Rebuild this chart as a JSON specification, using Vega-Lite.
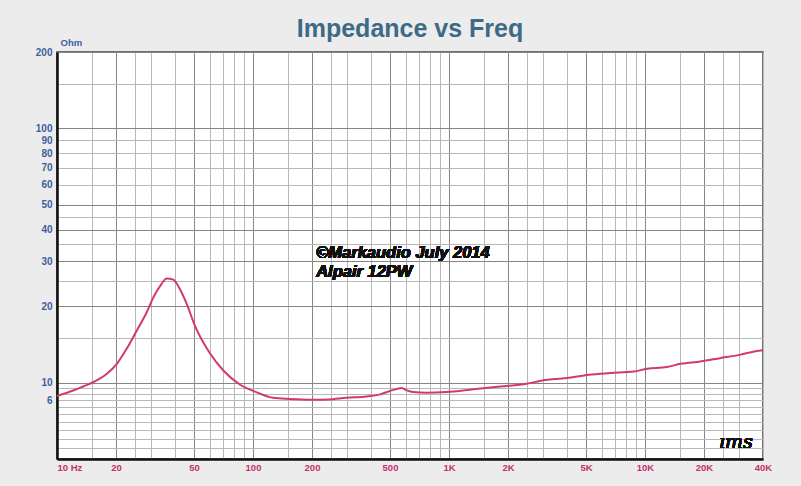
{
  "$schema": "https://vega.github.io/schema/vega-lite/v6.json",
  "width": 706,
  "height": 407,
  "autosize": {"type": "none"},
  "padding": {"left": 57, "top": 52, "right": 38, "bottom": 27},
  "background": "#ececec",
  "view": {"fill": "white", "stroke": "#444", "strokeWidth": 1.5},
  "title": {
    "text": "Impedance vs Freq",
    "fontSize": 25,
    "font": "Liberation Sans",
    "fontWeight": "bold",
    "color": "#3d6a86",
    "offset": -5
  },
  "data": {
    "values": [
      {"freq": 10, "ohm": 8.85},
      {"freq": 12.1, "ohm": 9.3},
      {"freq": 13.6, "ohm": 9.65},
      {"freq": 15.6, "ohm": 10.1},
      {"freq": 17.9, "ohm": 10.8},
      {"freq": 20.2, "ohm": 11.85},
      {"freq": 22.7, "ohm": 13.6},
      {"freq": 25.5, "ohm": 16.0},
      {"freq": 28.7, "ohm": 18.9},
      {"freq": 31.0, "ohm": 21.6},
      {"freq": 34.1, "ohm": 24.4},
      {"freq": 36.3, "ohm": 25.7},
      {"freq": 39.2, "ohm": 25.4},
      {"freq": 42.4, "ohm": 23.3},
      {"freq": 45.9, "ohm": 20.4},
      {"freq": 50.6, "ohm": 16.7},
      {"freq": 60.4, "ohm": 13.0},
      {"freq": 70.6, "ohm": 11.15},
      {"freq": 86, "ohm": 9.8},
      {"freq": 104.6, "ohm": 9.15},
      {"freq": 126.6, "ohm": 8.71},
      {"freq": 154, "ohm": 8.62},
      {"freq": 199, "ohm": 8.56},
      {"freq": 242, "ohm": 8.58},
      {"freq": 300, "ohm": 8.71},
      {"freq": 380, "ohm": 8.81},
      {"freq": 445, "ohm": 8.98},
      {"freq": 510, "ohm": 9.31},
      {"freq": 573, "ohm": 9.52},
      {"freq": 610, "ohm": 9.31},
      {"freq": 656, "ohm": 9.17},
      {"freq": 766, "ohm": 9.11},
      {"freq": 970, "ohm": 9.17},
      {"freq": 1330, "ohm": 9.4},
      {"freq": 1830, "ohm": 9.65},
      {"freq": 2490, "ohm": 9.89},
      {"freq": 2990, "ohm": 10.19},
      {"freq": 3990, "ohm": 10.41},
      {"freq": 5170, "ohm": 10.73},
      {"freq": 6680, "ohm": 10.9},
      {"freq": 8750, "ohm": 11.05},
      {"freq": 10250, "ohm": 11.32},
      {"freq": 12930, "ohm": 11.5},
      {"freq": 15180, "ohm": 11.85},
      {"freq": 19150, "ohm": 12.1},
      {"freq": 24130, "ohm": 12.47},
      {"freq": 30400, "ohm": 12.85},
      {"freq": 38200, "ohm": 13.35},
      {"freq": 40000, "ohm": 13.4}
    ]
  },
  "layer": [
    {
      "mark": {"type": "line", "color": "#d23a6c", "strokeWidth": 2, "interpolate": "monotone"},
      "encoding": {
        "x": {
          "field": "freq",
          "type": "quantitative",
          "scale": {"type": "log", "domain": [10, 40000], "nice": false},
          "axis": {
            "title": null,
            "values": [10, 15, 20, 25, 30, 40, 50, 60, 70, 80, 90, 100, 150, 200, 250, 300, 400, 500, 600, 700, 800, 900, 1000, 1500, 2000, 2500, 3000, 4000, 5000, 6000, 7000, 8000, 9000, 10000, 15000, 20000, 25000, 30000, 40000],
            "labelExpr": "datum.value == 10 ? '10 Hz' : indexof([20,50,100,200,500], datum.value) >= 0 ? datum.value + '' : indexof([1000,2000,5000,10000,20000,40000], datum.value) >= 0 ? (datum.value / 1000) + 'K' : ''",
            "labelAlign": {"condition": {"test": "datum.value == 10", "value": "left"}, "value": "center"},
            "labelOverlap": false,
            "labelFlush": false,
            "labelBound": false,
            "labelColor": "#c2306a",
            "labelFont": "Liberation Sans",
            "labelFontWeight": "bold",
            "labelFontSize": 9.5,
            "labelPadding": 3,
            "ticks": false,
            "domainColor": "#111",
            "domainWidth": 2.5,
            "gridColor": {"condition": {"test": "indexof([10,20,50,100,200,500,1000,2000,5000,10000,20000], datum.value) >= 0", "value": "#858585"}, "value": "#b8b8b8"},
            "gridWidth": 1
          }
        },
        "y": {
          "field": "ohm",
          "type": "quantitative",
          "scale": {"type": "log", "domain": [5, 200], "nice": false},
          "axis": {
            "title": "Ohm",
            "titleAngle": 0,
            "titleX": 3,
            "titleY": -5,
            "titleAlign": "left",
            "titleBaseline": "bottom",
            "titleColor": "#3d5f9e",
            "titleFont": "Liberation Sans",
            "titleFontWeight": "bold",
            "titleFontSize": 9.5,
            "values": [5.5, 6, 6.5, 7, 7.5, 8, 8.5, 9, 9.5, 10, 15, 20, 25, 30, 35, 40, 45, 50, 60, 70, 80, 90, 100, 150, 200],
            "labelExpr": "datum.value == 8.5 ? '6' : indexof([10,20,30,40,50,60,70,80,90,100,200], datum.value) >= 0 ? datum.value + '' : ''",
            "labelOverlap": false,
            "labelFlush": false,
            "labelBound": false,
            "labelColor": "#3d5f9e",
            "labelFont": "Liberation Sans",
            "labelFontWeight": "bold",
            "labelFontSize": 10,
            "labelPadding": 5,
            "ticks": false,
            "domainColor": "#111",
            "domainWidth": 2.5,
            "gridColor": {"condition": {"test": "indexof([10,20,30,40,50,100,200], datum.value) >= 0", "value": "#858585"}, "value": "#b8b8b8"},
            "gridWidth": 1
          }
        }
      }
    },
    {
      "mark": {"type": "text", "align": "left", "baseline": "alphabetic", "font": "Liberation Sans", "fontWeight": "bold", "fontStyle": "italic", "fontSize": 16.5, "color": "#111"},
      "encoding": {
        "x": {"datum": 210, "type": "quantitative"},
        "y": {"datum": 30.9, "type": "quantitative"},
        "text": {"value": "©Markaudio July 2014"}
      }
    },
    {
      "mark": {"type": "text", "align": "left", "baseline": "alphabetic", "font": "Liberation Sans", "fontWeight": "bold", "fontStyle": "italic", "fontSize": 16.5, "color": "#111"},
      "encoding": {
        "x": {"datum": 210, "type": "quantitative"},
        "y": {"datum": 26.0, "type": "quantitative"},
        "text": {"value": "Alpair 12PW"}
      }
    },
    {
      "mark": {"type": "text", "align": "center", "baseline": "middle", "font": "DejaVu Serif", "fontStyle": "italic", "fontSize": 19, "color": "#111"},
      "encoding": {
        "x": {"datum": 29100, "type": "quantitative"},
        "y": {"datum": 5.85, "type": "quantitative"},
        "text": {"value": "ıms"}
      }
    }
  ]
}
